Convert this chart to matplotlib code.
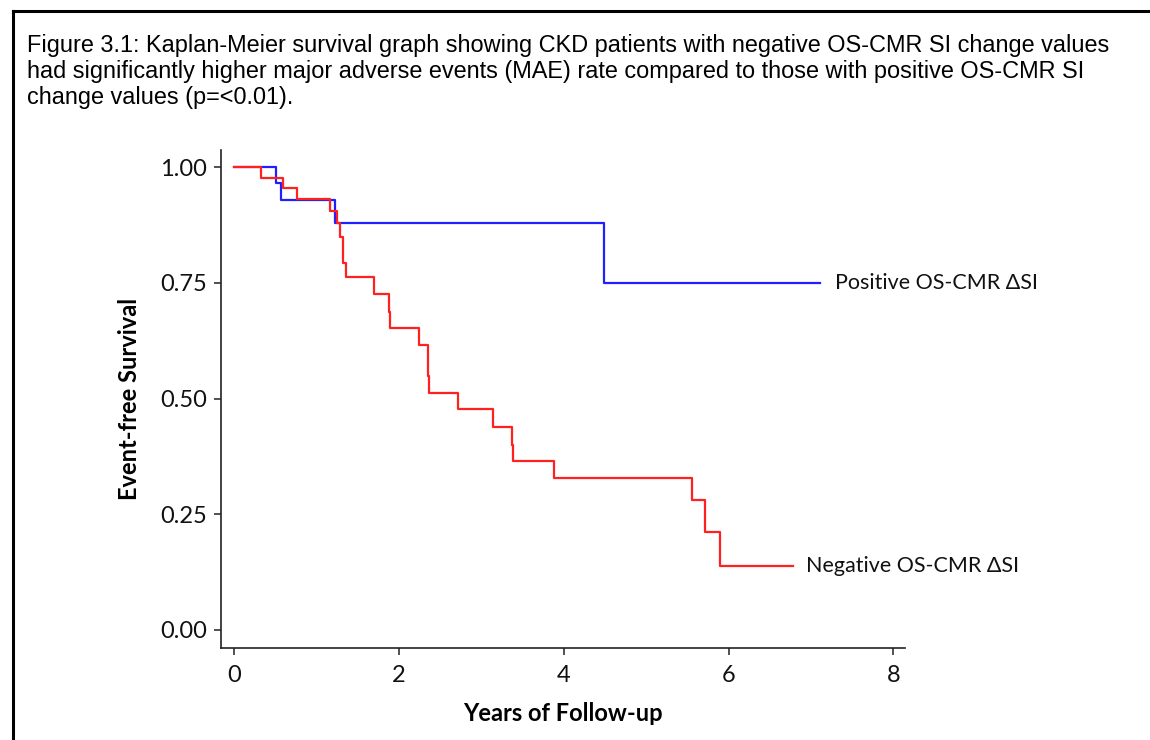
import matplotlib.pyplot as plt
from matplotlib.lines import Line2D

# Kaplan-Meier step points: event times (years) and survival after each step
neg_times = [0.0, 0.33, 0.60, 0.77, 1.165, 1.254, 1.286, 1.327, 1.359, 1.70,
             1.881, 1.897, 2.245, 2.35, 2.367, 2.718, 3.143, 3.374, 3.39,
             3.88, 5.554, 5.71, 5.90, 6.78]
neg_surv = [1.0, 0.977, 0.954, 0.932, 0.905, 0.880, 0.848, 0.792, 0.763, 0.726,
            0.686, 0.652, 0.616, 0.548, 0.511, 0.477, 0.439, 0.400, 0.365,
            0.329, 0.280, 0.211, 0.139, 0.139]

pos_times = [0.0, 0.506, 0.57, 1.226, 4.49, 7.11]
pos_surv = [1.0, 0.965, 0.929, 0.879, 0.749, 0.749]

x_ticks = [0, 2, 4, 6, 8]
y_ticks = [0.0, 0.25, 0.5, 0.75, 1.0]

caption = ("Figure 3.1: Kaplan-Meier survival graph showing CKD patients with negative OS-CMR SI change values\n"
           "had significantly higher major adverse events (MAE) rate compared to those with positive OS-CMR SI\n"
           "change values (p=<0.01).")

axis_font = ['Lato', 'DejaVu Sans']

fig = plt.figure(figsize=(11.5, 7.4), dpi=100)

# frame round the figure (top and left edges only show)
fig.add_artist(Line2D([13 / 1150, 13 / 1150], [0, 1 - 11 / 740], color='black', lw=2.2))
fig.add_artist(Line2D([13 / 1150, 1], [1 - 11 / 740, 1 - 11 / 740], color='black', lw=2.2))

fig.text(27 / 1150, 1 - 34 / 740, caption, ha='left', va='top',
         family='Liberation Sans', fontsize=16.9, linespacing=1.16)

ax = fig.add_axes([221 / 1150, 1 - 648 / 740, (905 - 221) / 1150, (648 - 150) / 740])

ax.step(pos_times, pos_surv, where='post', color='#1f1fff', lw=1.6)
ax.step(neg_times, neg_surv, where='post', color='#ff2020', lw=1.6)

ax.annotate('Positive OS-CMR ΔSI', xy=(pos_times[-1], pos_surv[-1]),
            xytext=(11, 0), textcoords='offset points', va='center', ha='left',
            family=axis_font, fontsize=15.5, color='#111111')
ax.annotate('Negative OS-CMR ΔSI', xy=(neg_times[-1], neg_surv[-1]),
            xytext=(9.5, 0), textcoords='offset points', va='center', ha='left',
            family=axis_font, fontsize=15.5, color='#111111')

ax.set_xlim(-0.158, 8.14)
ax.set_ylim(-0.039, 1.037)
ax.set_xticks(x_ticks)
ax.set_yticks(y_ticks)
ax.set_yticklabels([f'{v:.2f}' for v in y_ticks])

for side in ['top', 'right']:
    ax.spines[side].set_visible(False)
for side in ['left', 'bottom']:
    ax.spines[side].set_color('#222222')
    ax.spines[side].set_linewidth(1.2)

ax.tick_params(direction='out', length=5, width=1.1, color='#222222', pad=5,
               labelsize=17, labelcolor='#111111')
ax.tick_params(axis='x', pad=7)
for lab in ax.get_xticklabels() + ax.get_yticklabels():
    lab.set_family(axis_font)

ax.set_xlabel('Years of Follow-up', family=axis_font, fontsize=17,
              fontweight='bold', labelpad=12)
ax.set_ylabel('Event-free Survival', family=axis_font, fontsize=17,
              fontweight='bold', labelpad=14)

fig.savefig('out.png', dpi=100)
